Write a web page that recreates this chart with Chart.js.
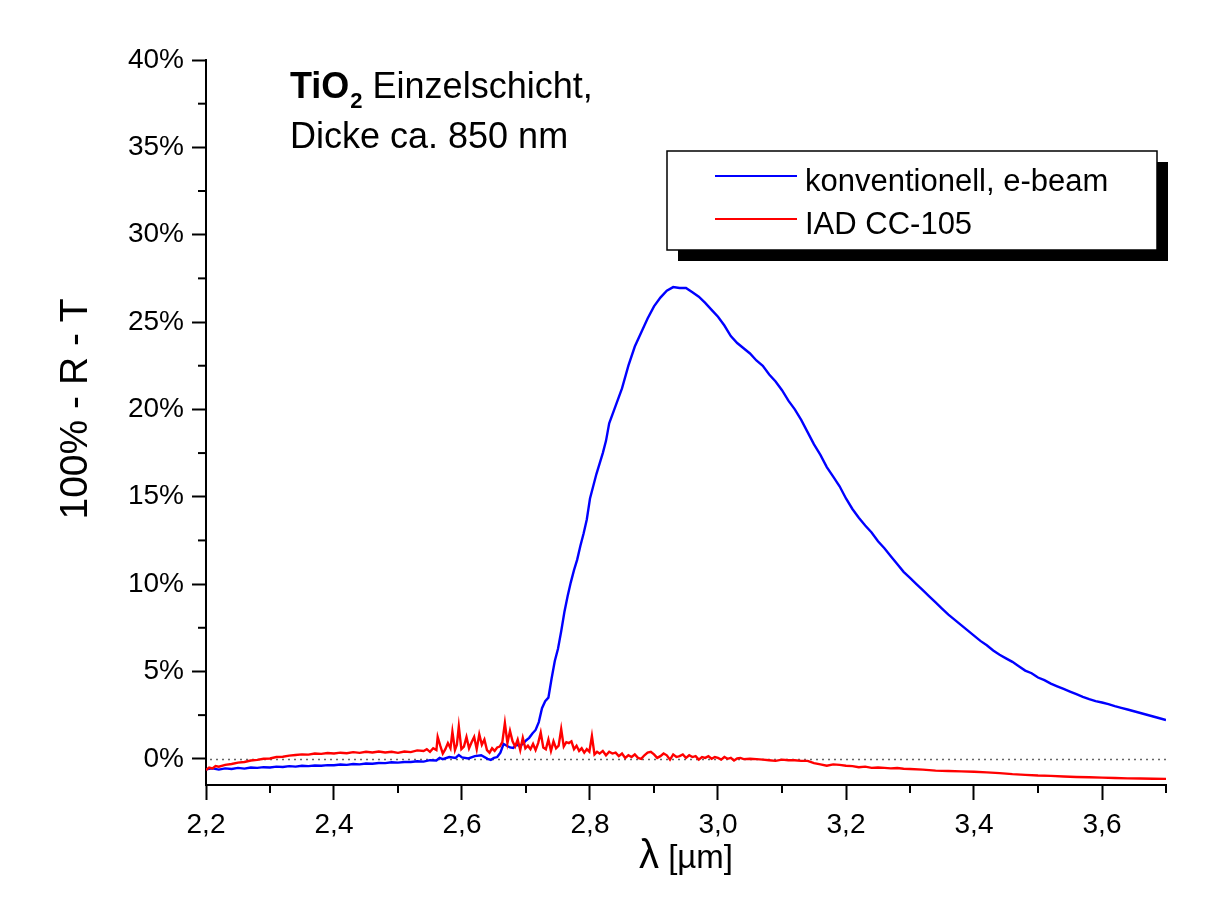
<!DOCTYPE html>
<html><head><meta charset="utf-8">
<script src="https://cdn.jsdelivr.net/npm/chart.js@4/dist/chart.umd.min.js"></script>
<style>html,body{margin:0;padding:0;background:#fff;}#wrap{width:1209px;height:900px;position:relative;}canvas{display:block;}</style>
</head><body><div id="wrap"><canvas id="c" width="1209" height="900" style="width:1209px;height:900px"></canvas></div>
<script>
// ---- data (wavelength in µm, value in %) ----
const blueLam = [2.20,2.21,2.22,2.23,2.24,2.25,2.26,2.27,2.28,2.29,2.30,2.31,2.32,2.33,2.34,2.35,2.36,2.37,2.38,2.39,2.40,2.41,2.42,2.43,2.44,2.45,2.46,2.47,2.48,2.49,2.50,2.51,2.52,2.53,2.54,2.55,2.56,2.565,2.57,2.58,2.59,2.595,2.60,2.61,2.62,2.63,2.64,2.645,2.65,2.655,2.66,2.665,2.67,2.675,2.68,2.685,2.69,2.695,2.70,2.705,2.71,2.715,2.72,2.725,2.73,2.735,2.74,2.745,2.75,2.755,2.76,2.765,2.77,2.775,2.78,2.785,2.79,2.795,2.80,2.805,2.81,2.815,2.82,2.825,2.83,2.84,2.85,2.86,2.87,2.88,2.89,2.90,2.91,2.92,2.93,2.94,2.95,2.96,2.97,2.98,2.99,3.00,3.01,3.02,3.03,3.04,3.05,3.06,3.07,3.08,3.09,3.10,3.11,3.12,3.13,3.14,3.15,3.16,3.17,3.18,3.19,3.20,3.21,3.22,3.23,3.24,3.25,3.26,3.27,3.28,3.29,3.30,3.31,3.32,3.33,3.34,3.35,3.36,3.37,3.38,3.39,3.40,3.41,3.42,3.43,3.44,3.45,3.46,3.47,3.48,3.49,3.50,3.51,3.52,3.53,3.54,3.55,3.56,3.57,3.58,3.59,3.60,3.61,3.62,3.63,3.64,3.65,3.66,3.67,3.68,3.69,3.70];
const blueVal = [-0.60,-0.55,-0.62,-0.55,-0.58,-0.52,-0.56,-0.50,-0.52,-0.48,-0.50,-0.45,-0.47,-0.42,-0.45,-0.40,-0.42,-0.38,-0.40,-0.36,-0.37,-0.33,-0.35,-0.30,-0.32,-0.27,-0.28,-0.24,-0.25,-0.20,-0.22,-0.18,-0.18,-0.14,-0.16,-0.08,-0.10,0.05,-0.02,0.10,0.05,0.22,0.08,0.02,0.15,0.20,0.00,-0.06,0.05,0.10,0.35,0.85,0.75,0.65,0.62,0.80,0.75,0.85,1.05,1.20,1.45,1.65,2.10,2.90,3.30,3.50,4.60,5.60,6.30,7.30,8.40,9.30,10.10,10.80,11.40,12.20,12.90,13.70,14.90,15.60,16.30,16.90,17.50,18.20,19.20,20.20,21.20,22.50,23.60,24.40,25.20,25.90,26.40,26.80,27.00,26.95,26.95,26.70,26.45,26.10,25.70,25.30,24.80,24.20,23.80,23.50,23.20,22.80,22.50,22.00,21.60,21.10,20.50,20.00,19.40,18.70,18.00,17.40,16.70,16.15,15.60,14.90,14.30,13.80,13.35,12.95,12.45,12.05,11.60,11.15,10.70,10.35,10.00,9.65,9.30,8.95,8.60,8.25,7.95,7.65,7.35,7.05,6.75,6.50,6.20,5.95,5.75,5.55,5.30,5.05,4.90,4.65,4.50,4.30,4.15,4.00,3.85,3.70,3.55,3.42,3.30,3.22,3.13,3.02,2.92,2.82,2.72,2.62,2.52,2.42,2.32,2.22];
const redLam = [2.20,2.205,2.21,2.215,2.22,2.23,2.24,2.25,2.26,2.27,2.28,2.29,2.30,2.31,2.32,2.33,2.34,2.35,2.36,2.37,2.38,2.39,2.40,2.41,2.42,2.43,2.44,2.45,2.46,2.47,2.48,2.49,2.50,2.51,2.52,2.53,2.54,2.545,2.55,2.555,2.56,2.562,2.566,2.57,2.574,2.578,2.582,2.585,2.589,2.592,2.595,2.599,2.603,2.607,2.611,2.615,2.619,2.623,2.627,2.631,2.635,2.639,2.643,2.647,2.651,2.655,2.659,2.663,2.667,2.671,2.675,2.679,2.683,2.687,2.691,2.695,2.699,2.703,2.707,2.711,2.715,2.719,2.723,2.727,2.731,2.735,2.739,2.743,2.747,2.751,2.755,2.759,2.763,2.767,2.771,2.775,2.779,2.783,2.787,2.791,2.795,2.799,2.803,2.807,2.811,2.815,2.82,2.825,2.83,2.835,2.84,2.845,2.85,2.855,2.86,2.865,2.87,2.875,2.88,2.885,2.89,2.895,2.90,2.905,2.91,2.915,2.92,2.925,2.93,2.935,2.94,2.945,2.95,2.955,2.96,2.965,2.97,2.975,2.98,2.985,2.99,2.995,3.00,3.005,3.01,3.015,3.02,3.025,3.03,3.035,3.04,3.05,3.06,3.07,3.08,3.09,3.10,3.11,3.12,3.13,3.14,3.15,3.16,3.17,3.18,3.19,3.20,3.21,3.22,3.23,3.24,3.25,3.26,3.27,3.28,3.29,3.30,3.32,3.34,3.36,3.38,3.40,3.42,3.44,3.46,3.48,3.50,3.52,3.54,3.56,3.58,3.60,3.62,3.64,3.66,3.68,3.70];
const redVal = [-0.65,-0.50,-0.55,-0.42,-0.45,-0.35,-0.30,-0.22,-0.18,-0.10,-0.06,0.00,0.02,0.10,0.12,0.18,0.22,0.25,0.24,0.30,0.28,0.33,0.30,0.35,0.32,0.38,0.34,0.40,0.36,0.42,0.36,0.40,0.34,0.42,0.38,0.48,0.45,0.55,0.40,0.60,0.50,1.25,0.75,0.30,0.55,0.90,0.60,1.55,0.50,0.80,1.85,0.55,0.70,1.25,0.60,0.95,1.25,0.55,1.40,0.80,1.10,0.50,0.35,0.60,0.45,0.65,0.70,0.95,2.05,0.90,1.60,1.00,0.70,1.10,0.50,1.20,0.60,0.75,0.55,0.85,0.50,0.90,1.50,0.65,0.55,1.10,0.45,1.00,0.60,0.75,1.70,0.70,0.95,0.90,1.00,0.55,0.75,0.45,0.60,0.35,0.55,0.40,1.30,0.25,0.40,0.30,0.45,0.20,0.40,0.30,0.35,0.15,0.30,0.05,0.20,0.10,0.25,0.05,0.00,0.20,0.35,0.40,0.25,0.05,0.15,0.30,0.20,-0.05,0.25,0.10,0.15,0.25,0.05,0.20,0.10,0.15,-0.05,0.10,0.05,0.15,0.00,0.10,0.05,-0.05,0.10,0.00,0.05,-0.10,0.02,0.05,-0.02,0.00,-0.02,-0.05,-0.08,-0.12,-0.05,-0.08,-0.08,-0.12,-0.12,-0.25,-0.32,-0.40,-0.32,-0.35,-0.40,-0.42,-0.48,-0.45,-0.52,-0.50,-0.52,-0.55,-0.53,-0.57,-0.58,-0.62,-0.68,-0.70,-0.72,-0.74,-0.78,-0.82,-0.88,-0.92,-0.96,-0.98,-1.01,-1.04,-1.06,-1.08,-1.10,-1.12,-1.13,-1.14,-1.15];
const seriesLabels = ['konventionell, e-beam', 'IAD CC-105'];
const seriesColors = ['#0000ff', '#ff0000'];
const xMajorTicks = [2.2, 2.4, 2.6, 2.8, 3.0, 3.2, 3.4, 3.6];
const xMinorTicks = [2.3, 2.5, 2.7, 2.9, 3.1, 3.3, 3.5, 3.7];
const yMajorTicks = [0, 5, 10, 15, 20, 25, 30, 35, 40];
const yMinorTicks = [2.5, 7.5, 12.5, 17.5, 22.5, 27.5, 32.5, 37.5];
const xTitle = ['λ', ' [µm]'];
const yTitle = '100% - R - T';
const noteBold = 'TiO';
const noteSub = '2';
const noteLine1 = ' Einzelschicht,';
const noteLine2 = 'Dicke ca. 850 nm';

const FONT = '"Liberation Sans", Arial, sans-serif';
const toXY = (lam, val) => lam.map((x, i) => ({x: x, y: val[i]}));

const extras = {
  id: 'extras',
  beforeDatasetsDraw(chart) {
    const {ctx, chartArea: a, scales: {y}} = chart;
    const y0 = Math.round(y.getPixelForValue(0)) + 0.5;
    ctx.save();
    ctx.strokeStyle = '#666';
    ctx.lineWidth = 1.5;
    ctx.setLineDash([2, 4]);
    ctx.beginPath(); ctx.moveTo(a.left + 4, y0); ctx.lineTo(a.right, y0); ctx.stroke();
    ctx.restore();
  },
  afterDraw(chart) {
    const {ctx, chartArea: a, scales: {x, y}} = chart;
    ctx.save();
    ctx.strokeStyle = '#000'; ctx.lineWidth = 2;
    xMinorTicks.forEach(v => { const px = x.getPixelForValue(v); ctx.beginPath(); ctx.moveTo(px, a.bottom); ctx.lineTo(px, a.bottom + 8); ctx.stroke(); });
    yMinorTicks.forEach(v => { const py = y.getPixelForValue(v); ctx.beginPath(); ctx.moveTo(a.left, py); ctx.lineTo(a.left - 8, py); ctx.stroke(); });
    ctx.fillStyle = '#000';
    ctx.textBaseline = 'middle';
    ctx.save();
    ctx.translate(76, 409); ctx.rotate(-Math.PI / 2);
    ctx.textAlign = 'center';
    ctx.font = '39px ' + FONT;
    ctx.fillText(yTitle, 0, 0);
    ctx.restore();
    ctx.textAlign = 'left';
    ctx.font = '40px ' + FONT;
    const w1 = ctx.measureText(xTitle[0]).width;
    ctx.font = '33px ' + FONT;
    const w2 = ctx.measureText(xTitle[1]).width;
    let sx = 686 - (w1 + w2) / 2;
    ctx.textBaseline = 'alphabetic';
    ctx.font = '40px ' + FONT; ctx.fillText(xTitle[0], sx, 868);
    ctx.font = '33px ' + FONT; ctx.fillText(xTitle[1], sx + w1, 868);
    let nx = 290;
    ctx.font = 'bold 36px ' + FONT; ctx.fillText(noteBold, nx, 98); nx += ctx.measureText(noteBold).width;
    ctx.font = 'bold 22px ' + FONT; ctx.fillText(noteSub, nx + 1, 108); nx += ctx.measureText(noteSub).width + 1;
    ctx.font = '36px ' + FONT; ctx.fillText(noteLine1, nx, 98);
    ctx.fillText(noteLine2, 290, 148);
    const L = 667, T = 151, W = 490, H = 99;
    ctx.fillStyle = '#000'; ctx.fillRect(L + 11, T + 11, W, H);
    ctx.fillStyle = '#fff'; ctx.fillRect(L, T, W, H);
    ctx.strokeStyle = '#000'; ctx.lineWidth = 1.5; ctx.strokeRect(L, T, W, H);
    chart.data.datasets.forEach((ds, i) => {
      const ly = [176, 219][i];
      ctx.strokeStyle = ds.borderColor; ctx.lineWidth = 2;
      ctx.beginPath(); ctx.moveTo(715, ly); ctx.lineTo(797, ly); ctx.stroke();
      ctx.fillStyle = '#000'; ctx.font = '31px ' + FONT; ctx.textBaseline = 'middle';
      ctx.fillText(ds.label, 805, ly + 6);
    });
    ctx.restore();
  }
};

new Chart(document.getElementById('c'), {
  type: 'line',
  data: {
    datasets: [
      {label: seriesLabels[0], data: toXY(blueLam, blueVal), borderColor: seriesColors[0], borderWidth: 2.4, pointRadius: 0, tension: 0, order: 1},
      {label: seriesLabels[1], data: toXY(redLam, redVal), borderColor: seriesColors[1], borderWidth: 2.4, pointRadius: 0, tension: 0, order: 0}
    ]
  },
  options: {
    responsive: false,
    maintainAspectRatio: false,
    animation: false,
    devicePixelRatio: 1,
    layout: {padding: {top: 60, right: 43, left: 0, bottom: 0}},
    plugins: {legend: {display: false}, tooltip: {enabled: false}},
    scales: {
      x: {
        type: 'linear', min: 2.2, max: 3.7,
        afterBuildTicks: s => { s.ticks = xMajorTicks.map(v => ({value: v})); },
        afterFit: s => { s.height = 115; },
        grid: {drawOnChartArea: false, drawTicks: true, tickLength: 15, tickWidth: 2, tickColor: '#000'},
        border: {display: true, color: '#000', width: 2},
        ticks: {color: '#000', font: {family: FONT, size: 28}, padding: 8, maxRotation: 0,
          callback: v => v.toFixed(1).replace('.', ',')}
      },
      y: {
        type: 'linear', min: -1.5, max: 40,
        afterBuildTicks: s => { s.ticks = yMajorTicks.map(v => ({value: v})); },
        afterFit: s => { s.width = 206; },
        grid: {drawOnChartArea: false, drawTicks: true, tickLength: 14, tickWidth: 2, tickColor: '#000'},
        border: {display: true, color: '#000', width: 2},
        ticks: {color: '#000', font: {family: FONT, size: 28}, padding: 8,
          callback: v => v + '%'}
      }
    }
  },
  plugins: [extras]
});
</script></body></html>
